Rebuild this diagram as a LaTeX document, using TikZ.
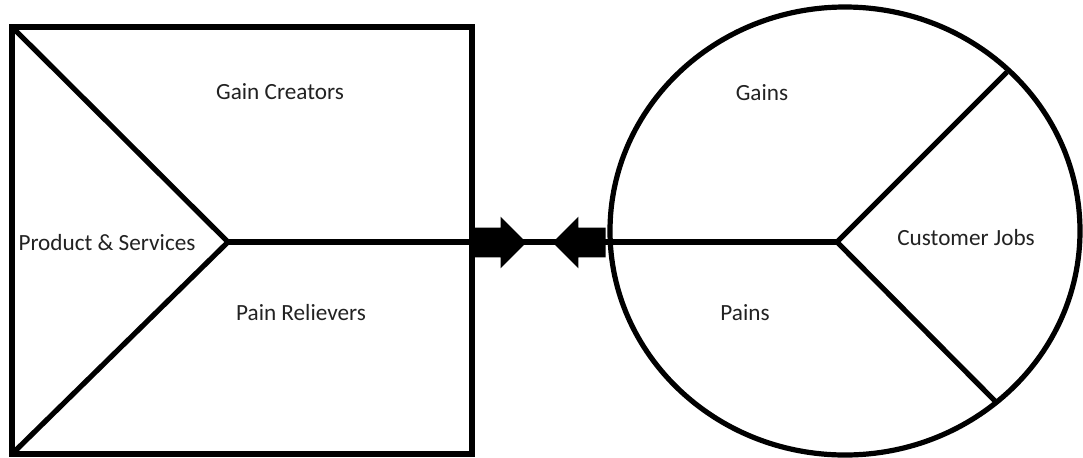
\documentclass[tikz,border=0pt]{standalone}
\usepackage{fontspec}
\setmainfont{Carlito}
\usepackage{xcolor}
\usetikzlibrary{shapes.arrows}
\definecolor{ink}{HTML}{222222}
\tikzset{
    every picture/.style={line join=miter},
    outline/.style={draw=black,line width=2.6pt},
    spoke/.style={draw=black,line width=2.6pt},
    blocklabel/.style={text=ink,font=\fontsize{11.6}{13}\selectfont,inner sep=1pt},
    blockarrow/.style={single arrow,fill=black,draw=none,
      inner xsep=0pt,inner ysep=7.25pt,minimum height=26.5pt,
      single arrow head extend=5.5pt,single arrow tip angle=90}
}
\begin{document}
\begin{tikzpicture}[x=0.5pt,y=-0.5pt]
  \useasboundingbox[fill=white] (0,0) rectangle (1083,457);
  % value map (square)
  \coordinate (tl) at (12,27);
  \coordinate (bl) at (12,454);
  \coordinate (apex) at (228,242);
  \draw[outline] (tl) rectangle (472,454);
  \draw[spoke] (tl) -- (apex) -- (bl);
  % customer profile (circle)
  \coordinate (hub) at (837,242);
  \coordinate (jtop) at (1007,72);
  \coordinate (jbot) at (996,402);
  \draw[outline] (845,231) ellipse [x radius=235,y radius=224];
  \draw[spoke] (apex) -- (hub);
  \draw[spoke] (hub) -- (jtop);
  \draw[spoke] (hub) -- (jbot);
  % fit arrows
  \node[blockarrow] (toright) at (492.5,242.5) {};
  \node[blockarrow,shape border rotate=180] (toleft) at (586.5,242.5) {};
  % labels
  \node[blocklabel] (creators) at (280,92) {Gain Creators};
  \node[blocklabel] (product) at (107,243) {Product \& Services};
  \node[blocklabel] (relievers) at (301,313) {Pain Relievers};
  \node[blocklabel] (gains) at (762,93) {Gains};
  \node[blocklabel] (pains) at (745,313) {Pains};
  \node[blocklabel] (jobs) at (966,238) {Customer Jobs};
\end{tikzpicture}
\end{document}
